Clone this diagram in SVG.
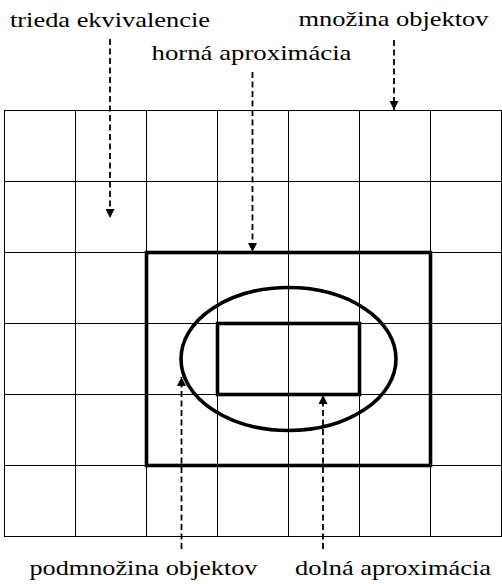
<svg xmlns="http://www.w3.org/2000/svg" width="502" height="584" viewBox="0 0 502 584">
<style>
.grid{stroke:#000;stroke-width:1;fill:none}
.thick{stroke:#000;stroke-width:3.6;fill:none}
</style>
<defs>
<marker id="ah" viewBox="0 0 10 10" refX="10" refY="5" markerWidth="9" markerHeight="9" markerUnits="userSpaceOnUse" orient="auto">
<path d="M0,0 L10,5 L0,10 z" fill="#000"/>
</marker>
</defs>
<rect width="502" height="584" fill="#fff"/>
<g id="grid" class="grid">
<rect x="4.5" y="110.5" width="497" height="426"/>
<path d="M75.5,110.5V536.5M146.5,110.5V536.5M217.5,110.5V536.5M288.5,110.5V536.5M359.5,110.5V536.5M430.5,110.5V536.5"/>
<path d="M4.5,181.5H501.5M4.5,252.5H501.5M4.5,323.5H501.5M4.5,394.5H501.5M4.5,465.5H501.5"/>
</g>
<g id="upper-approx"><rect class="thick" x="146.5" y="252.5" width="284" height="213"/></g>
<g id="subset"><ellipse class="thick" cx="288.5" cy="359" rx="107.5" ry="71.5"/></g>
<g id="lower-approx"><rect class="thick" x="217.5" y="323.5" width="142" height="71"/></g>
<g id="connectors" stroke="#000" stroke-width="1.8" stroke-dasharray="6 3.5" fill="none" marker-end="url(#ah)">
<path d="M110,39V218"/>
<path d="M252.5,72V252"/>
<path d="M394,40V110"/>
<path d="M181.5,549V377"/>
<path d="M323,549V395"/>
</g>
<g id="labels" font-family="Liberation Serif" font-size="21" fill="#000">
<text x="10" y="26.5" textLength="200" lengthAdjust="spacingAndGlyphs">trieda ekvivalencie</text>
<text x="151.5" y="60" textLength="200" lengthAdjust="spacingAndGlyphs">horná aproximácia</text>
<text x="298.5" y="25.5" textLength="190" lengthAdjust="spacingAndGlyphs">množina objektov</text>
<text x="29.5" y="575" textLength="228" lengthAdjust="spacingAndGlyphs">podmnožina objektov</text>
<text x="295" y="575" textLength="196" lengthAdjust="spacingAndGlyphs">dolná aproximácia</text>
</g>
</svg>
